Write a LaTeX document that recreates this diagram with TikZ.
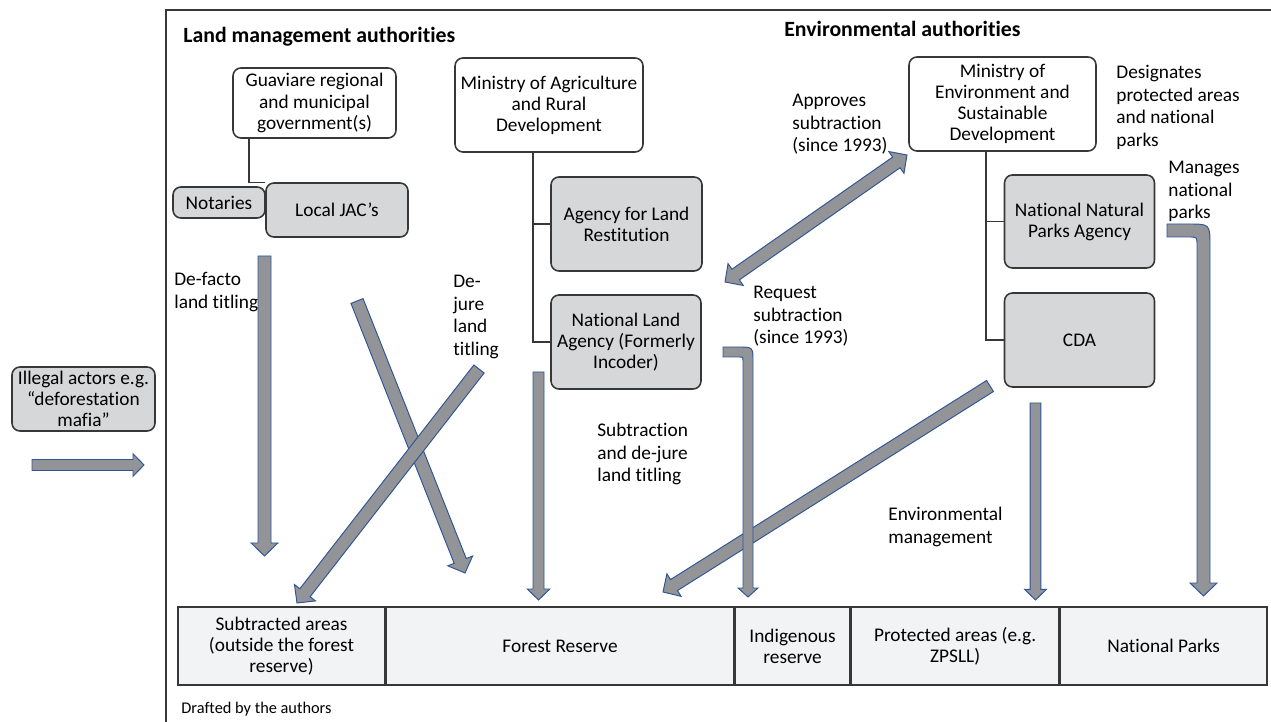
\documentclass[tikz,border=0pt]{standalone}
\usepackage{fontspec}
\setmainfont{Carlito}[Ligatures=NoCommon]
\usepackage{tikz}
\usetikzlibrary{calc,positioning}

\definecolor{boxgray}{RGB}{214,215,217}
\definecolor{cellgray}{RGB}{242,243,245}
\definecolor{arrowgray}{RGB}{146,148,151}
\definecolor{arrowblue}{RGB}{47,85,151}
\definecolor{linegray}{RGB}{55,55,55}

\tikzset{
  orgbox/.style={draw=linegray, line width=0.9pt, rounded corners=4.5pt, align=center, inner sep=0pt},
  whitebox/.style={orgbox, fill=white},
  graybox/.style={orgbox, fill=boxgray},
  cell/.style={draw=linegray, line width=0.9pt, fill=cellgray, align=center, minimum height=1.56cm, inner sep=0pt},
  lbl/.style={anchor=north west, align=left, inner sep=0pt, font=\fontsize{11}{12.8}\selectfont},
  heading/.style={anchor=base west, inner sep=0pt, font=\fontsize{12.4}{14}\selectfont\bfseries},
  tree/.style={draw=linegray, line width=0.8pt},
  blk/.style={fill=arrowgray, draw=arrowblue, line width=0.55pt, line join=miter},
}

% block arrow: [half shaft width, px]{start}{tip}
\newcommand{\blkarrow}[3][6.5]{%
  \pgfmathsetmacro{\shw}{#1*0.02}%
  \pgfmathsetmacro{\hdw}{2.05*#1*0.02}%
  \pgfmathsetmacro{\hdl}{2*#1*0.02}%
  \coordinate (hb) at ($(#3)!\hdl cm!(#2)$);
  \filldraw[blk] ($(#2)!\shw cm!90:(#3)$) -- ($(hb)!\shw cm!-90:(#2)$)
    -- ($(hb)!\hdw cm!-90:(#2)$) -- (#3) -- ($(hb)!\hdw cm!90:(#2)$)
    -- ($(hb)!\shw cm!90:(#2)$) -- ($(#2)!\shw cm!-90:(#3)$) -- cycle;
}
% same, head at both ends
\newcommand{\dblarrow}[3][6.5]{%
  \pgfmathsetmacro{\shw}{#1*0.02}%
  \pgfmathsetmacro{\hdw}{2.05*#1*0.02}%
  \pgfmathsetmacro{\hdl}{2*#1*0.02}%
  \coordinate (ha) at ($(#2)!\hdl cm!(#3)$);
  \coordinate (hb) at ($(#3)!\hdl cm!(#2)$);
  \filldraw[blk] (#2) -- ($(ha)!\hdw cm!90:(#3)$) -- ($(ha)!\shw cm!90:(#3)$)
    -- ($(hb)!\shw cm!-90:(#2)$) -- ($(hb)!\hdw cm!-90:(#2)$) -- (#3)
    -- ($(hb)!\hdw cm!90:(#2)$) -- ($(hb)!\shw cm!90:(#2)$)
    -- ($(ha)!\shw cm!-90:(#3)$) -- ($(ha)!\hdw cm!-90:(#3)$) -- cycle;
}

\begin{document}
\begin{tikzpicture}[x=0.02cm, y=-0.02cm, font=\fontsize{11}{12}\selectfont]
    \useasboundingbox (0,0) rectangle (1271,722);
    \draw[linegray, line width=1pt] (166,722) -- (166,10) -- (1271,10);

    \node[heading] (hland) at (183,43) {Land management authorities};
    \node[heading] (henv) at (784,37) {Environmental authorities};

    % land management side
    \node[whitebox, minimum width=3.26cm, minimum height=1.4cm] (guav) at (314.5,103) {Guaviare regional\\and municipal\\government(s)};
    \node[graybox, minimum width=1.84cm, minimum height=0.62cm] (notar) at (219,202.5) {Notaries};
    \node[graybox, minimum width=2.84cm, minimum height=1.08cm] (jac) at (337,210) {Local JAC’s};
    \node[whitebox, minimum width=3.76cm, minimum height=1.88cm] (magri) at (549,105) {Ministry of Agriculture\\and Rural\\Development};
    \node[graybox, minimum width=3.02cm, minimum height=1.88cm] (alr) at (626.5,224) {Agency for Land\\Restitution};
    \node[graybox, minimum width=3cm, minimum height=1.88cm] (nla) at (626,342) {National Land\\Agency (Formerly\\Incoder)};

    % environmental side
    \node[whitebox, minimum width=3.74cm, minimum height=1.88cm] (menv) at (1002.5,104) {Ministry of\\Environment and\\Sustainable\\Development};
    \node[graybox, minimum width=3cm, minimum height=1.86cm] (nnpa) at (1079.5,221.5) {National Natural\\Parks Agency};
    \node[graybox, minimum width=3cm, minimum height=1.88cm] (cda) at (1079.5,340) {CDA};

    \node[graybox, minimum width=2.86cm, minimum height=1.28cm] (illegal) at (83.5,399) {Illegal actors e.g.\\“deforestation\\mafia”};

    % tree lines
    \coordinate (gtrunk) at (249,0);
    \coordinate (atrunk) at (533,0);
    \coordinate (etrunk) at (986,0);
    \draw[tree] (guav.south -| gtrunk) |- (jac.north west);
    \draw[tree] (magri.south -| atrunk) |- (alr.west);
    \draw[tree] (magri.south -| atrunk) |- (nla.west);
    \draw[tree] (menv.south -| etrunk) |- (nnpa.west);
    \draw[tree] (menv.south -| etrunk) |- (cda.west);

    % land areas
    \node[cell, minimum width=4.14cm] (subtr) at (281.5,646) {Subtracted areas\\(outside the forest\\reserve)};
    \node[cell, minimum width=6.94cm, anchor=west] (forest) at (subtr.east) {Forest Reserve};
    \node[cell, minimum width=2.3cm, anchor=west] (indig) at (forest.east) {Indigenous\\reserve};
    \node[cell, minimum width=4.14cm, anchor=west] (prot) at (indig.east) {Protected areas (e.g.\\ZPSLL)};
    \node[cell, minimum width=4.14cm, anchor=west] (npark) at (prot.east) {National Parks};

    % arrow ends
    \coordinate (dfA) at (264.5,256);  \coordinate (dfB) at (264.5,556);
    \coordinate (x1A) at (357,301);    \coordinate (x1B) at (465,573);
    \coordinate (x2A) at (479,369);    \coordinate (x2B) at (297,603);
    \coordinate (nlA) at (538.5,372);  \coordinate (nlB) at (538.5,600);
    \coordinate (cdA) at (990,386);    \coordinate (cdB) at (663,592);
    \coordinate (cvA) at (1035.5,403); \coordinate (cvB) at (1035.5,600);
    \coordinate (apA) at (725,282);    \coordinate (apB) at (907,155);
    \coordinate (ilA) at (32,465);     \coordinate (ilB) at (144,465);

    \blkarrow{dfA}{dfB}
    \blkarrow{x1A}{x1B}
    \blkarrow{x2A}{x2B}
    \blkarrow[5.5]{nlA}{nlB}
    \blkarrow{cdA}{cdB}
    \blkarrow[5.3]{cvA}{cvB}
    \blkarrow[5.5]{ilA}{ilB}
    \dblarrow{apA}{apB}

    % bent arrows
    \filldraw[blk] (723,347) -- (738,347) .. controls (753,347) .. (753,362) -- (753,588)
      -- (758,588) -- (748,597) -- (738,588) -- (743,588) -- (743,361)
      .. controls (743,357) .. (739,357) -- (723,357) -- cycle;
    \filldraw[blk] (1167,224) -- (1188,224) .. controls (1210,224) .. (1210,246) -- (1210,583)
      -- (1217,583) -- (1203.5,596) -- (1190,583) -- (1197,583) -- (1197,245)
      .. controls (1197,237) .. (1189,237) -- (1167,237) -- cycle;

    % labels
    \node[lbl] (ldefacto) at (174,272) {De-facto\\land titling};
    \node[lbl] (ldejure) at (453,275) {De-\\jure\\land\\titling};
    \node[lbl] (lapprove) at (792,94) {Approves\\subtraction\\(since 1993)};
    \node[lbl] (ldesig) at (1116,65) {Designates\\protected areas\\and national\\parks};
    \node[lbl] (lmanage) at (1168,161) {Manages\\national\\parks};
    \node[lbl] (lrequest) at (753,286) {Request\\subtraction\\(since 1993)};
    \node[lbl] (lsubtr) at (597,423) {Subtraction\\and de-jure\\land titling};
    \node[lbl] (lenvman) at (888,507) {Environmental\\management};
    \node[anchor=base west, inner sep=0pt, font=\fontsize{9.3}{11}\selectfont] (credit) at (181,713) {Drafted by the authors};
\end{tikzpicture}
\end{document}
